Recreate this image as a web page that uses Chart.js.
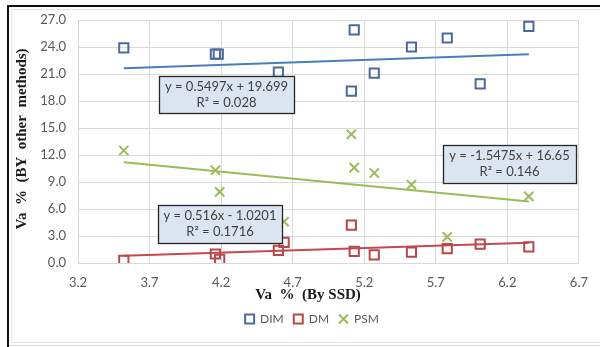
<!DOCTYPE html>
<html>
<head>
<meta charset="utf-8">
<script src="https://cdn.jsdelivr.net/npm/chart.js@4.4.1/dist/chart.umd.min.js"></script>
<style>
  html, body { margin: 0; padding: 0; background: #fff; }
  #wrap { position: relative; width: 600px; height: 347px; overflow: hidden; }
  #wrap canvas { position: absolute; left: 0; top: 0; }
  .frame { position: absolute; pointer-events: none; }
</style>
</head>
<body>
<div id="wrap">
  <canvas id="chart" width="600" height="347"></canvas>
  <div class="frame" style="left:11px;top:9px;width:589px;height:332px;border:1px solid #e6e6e6;border-right:none"></div>
  <div class="frame" style="left:9px;top:345px;width:591px;height:1px;background:#d9d9d9"></div>
  <div class="frame" style="left:7px;top:5px;width:593px;height:2px;background:#111"></div>
  <div class="frame" style="left:7px;top:5px;width:2px;height:342px;background:#111"></div>
</div>
<script>
// values
const xTicks = [3.2, 3.7, 4.2, 4.7, 5.2, 5.7, 6.2, 6.7];

const dimX = [3.52, 4.16, 4.18, 4.60, 5.11, 5.13, 5.27, 5.53, 5.78, 6.01, 6.35];
const dimY = [23.9, 23.2, 23.2, 21.2, 19.1, 25.9, 21.1, 24.0, 25.0, 19.9, 26.3];

const dmX = [3.52, 4.16, 4.19, 4.60, 4.64, 5.11, 5.13, 5.27, 5.53, 5.78, 6.01, 6.35];
const dmY = [0.3, 1.0, 0.4, 1.4, 2.3, 4.2, 1.3, 0.9, 1.2, 1.6, 2.1, 1.8];

const psmX = [3.52, 4.16, 4.19, 4.64, 5.11, 5.13, 5.27, 5.53, 5.78, 6.35];
const psmY = [12.5, 10.3, 7.9, 4.6, 14.3, 10.6, 10.0, 8.7, 2.9, 7.4];

// linear trendline ends (from the equations shown on the chart)
const trendX = [3.52, 6.35];
const dimTrend = [21.63, 23.19];
const dmTrend = [0.80, 2.26];
const psmTrend = [11.20, 6.83];

const eqDim = ['y = 0.5497x + 19.699', 'R\u00b2 = 0.028'];
const eqDm = ['y = 0.516x - 1.0201', 'R\u00b2 = 0.1716'];
const eqPsm = ['y = -1.5475x + 16.65', 'R\u00b2 = 0.146'];

const pts = (xs, ys) => xs.map((x, i) => ({ x, y: ys[i] }));

const SANS = 'Lato, "Open Sans", sans-serif';

// equation boxes, pixel boxes on the canvas
const labelBoxes = [
  { lines: eqDim, x: 159, y: 76, w: 135, h: 37 },
  { lines: eqDm, x: 158, y: 205, w: 124, h: 38 },
  { lines: eqPsm, x: 443, y: 145, w: 133, h: 38 },
];

const extras = {
  id: 'extras',
  afterLayout(chart) {
    // Excel legend sits a bit right of centre
    chart.legend.left += 18;
    chart.legend.right += 18;
  },
  afterDatasetsDraw(chart) {
    const ctx = chart.ctx;
    ctx.save();
    labelBoxes.forEach(b => {
      ctx.fillStyle = '#dbe5f1';
      ctx.fillRect(b.x, b.y, b.w, b.h);
      ctx.strokeStyle = '#262626';
      ctx.lineWidth = 1.3;
      ctx.strokeRect(b.x + 0.5, b.y + 0.5, b.w, b.h);
      ctx.fillStyle = '#404040';
      ctx.font = '13px ' + SANS;
      ctx.textAlign = 'center';
      ctx.textBaseline = 'middle';
      ctx.fillText(b.lines[0], b.x + b.w / 2, b.y + 11);
      ctx.fillText(b.lines[1], b.x + b.w / 2, b.y + 27);
    });
    ctx.restore();
  },
  afterDraw(chart) {
    const ctx = chart.ctx;
    ctx.save();
    ctx.fillStyle = '#1a1a1a';
    ctx.font = 'bold 15px "Liberation Serif", serif';
    ctx.textAlign = 'center';
    ctx.textBaseline = 'middle';
    ctx.fillText('Va  %  (By SSD)', 308, 295);
    ctx.translate(22, 139);
    ctx.rotate(-Math.PI / 2);
    ctx.fillText('Va  %  (BY  other  methods)', 0, 0);
    ctx.restore();
  }
};

new Chart(document.getElementById('chart'), {
  type: 'scatter',
  data: {
    datasets: [
      {
        label: 'DIM', data: pts(dimX, dimY),
        pointStyle: 'rect', pointRadius: 6.5, pointHoverRadius: 6.5,
        borderColor: '#4a6b9b', backgroundColor: 'rgba(0,0,0,0)',
        borderWidth: 2, pointBorderWidth: 2,
      },
      {
        label: 'DM', data: pts(dmX, dmY),
        pointStyle: 'rect', pointRadius: 6.5, pointHoverRadius: 6.5,
        borderColor: '#b8474a', backgroundColor: 'rgba(0,0,0,0)',
        borderWidth: 2, pointBorderWidth: 2,
      },
      {
        label: 'PSM', data: pts(psmX, psmY),
        pointStyle: 'crossRot', pointRadius: 6.5, pointHoverRadius: 6.5,
        borderColor: '#9bbb59', backgroundColor: 'rgba(0,0,0,0)',
        borderWidth: 2, pointBorderWidth: 2,
      },
      {
        label: 'trend DIM', data: pts(trendX, dimTrend), showLine: true,
        pointRadius: 0, borderColor: '#4a7ebb', borderWidth: 2,
      },
      {
        label: 'trend DM', data: pts(trendX, dmTrend), showLine: true,
        pointRadius: 0, borderColor: '#c8464f', borderWidth: 2,
      },
      {
        label: 'trend PSM', data: pts(trendX, psmTrend), showLine: true,
        pointRadius: 0, borderColor: '#9bbb59', borderWidth: 2,
      },
    ],
  },
  options: {
    responsive: false,
    animation: false,
    layout: { padding: { left: 0, right: 12, top: 20, bottom: 12 } },
    plugins: {
      tooltip: { enabled: false },
      legend: {
        position: 'bottom',
        labels: {
          usePointStyle: true,
          boxWidth: 9, boxHeight: 9,
          padding: 10,
          color: '#595959',
          font: { family: SANS, size: 12 },
          filter: item => item.datasetIndex < 3,
        },
      },
    },
    scales: {
      x: {
        type: 'linear', min: 3.2, max: 6.7,
        afterBuildTicks: s => { s.ticks = xTicks.map(v => ({ value: v })); },
        afterFit: s => { s.height = 40; },
        ticks: {
          color: '#595959', padding: 12,
          font: { family: SANS, size: 13 },
          callback: v => v.toFixed(1),
        },
        grid: { color: '#d9d9d9', drawTicks: false },
        border: { color: '#d9d9d9' },
      },
      y: {
        min: 0, max: 27,
        afterFit: s => { s.width = 78; },
        ticks: {
          stepSize: 3, color: '#595959', padding: 12,
          font: { family: SANS, size: 13 },
          callback: v => v.toFixed(1),
        },
        grid: { color: '#d9d9d9', drawTicks: false },
        border: { color: '#d9d9d9' },
      },
    },
  },
  plugins: [extras],
});
</script>
</body>
</html>
